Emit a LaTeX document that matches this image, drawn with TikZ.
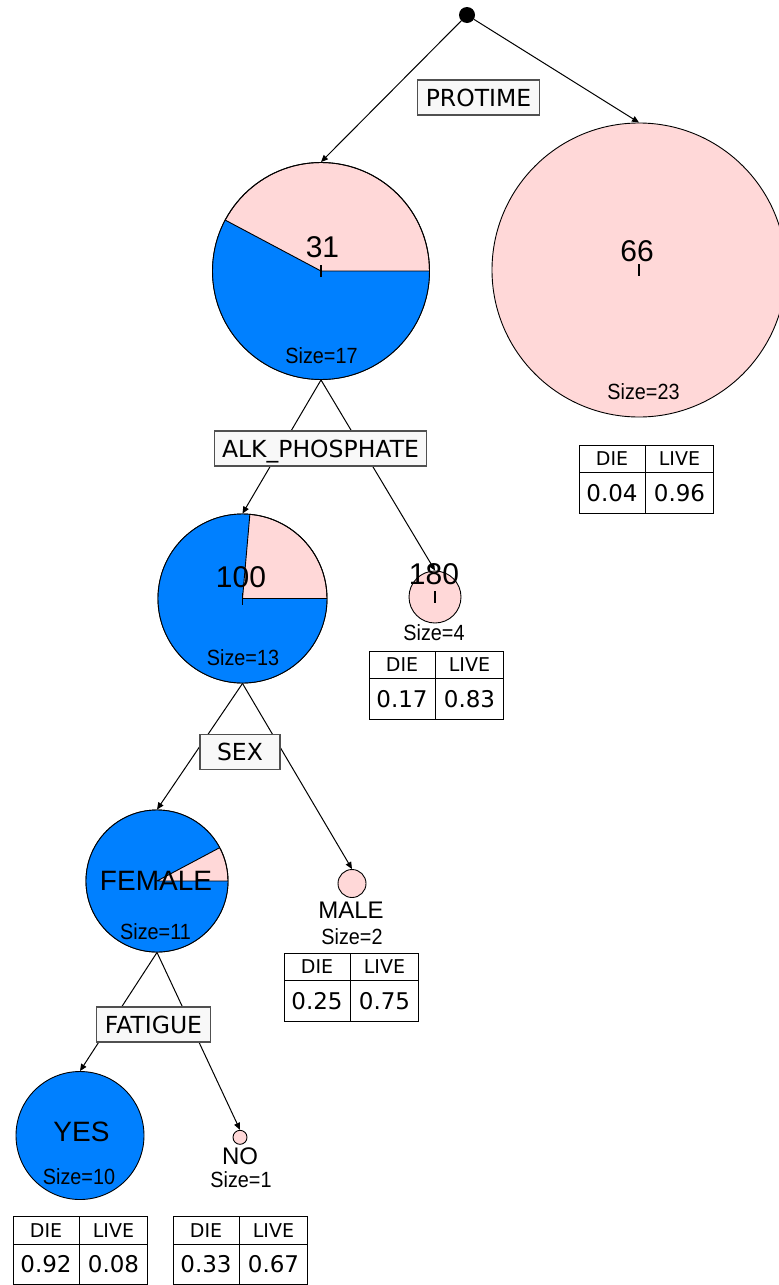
\documentclass[tikz,border=0pt]{standalone}
\usepackage{fontspec}
\setmainfont{Liberation Sans}
\newfontfamily\boxfont{DejaVu Sans}
\newfontfamily\narrowfont[FakeStretch=0.9]{Liberation Sans}
\usetikzlibrary{arrows.meta}

\definecolor{livepink}{RGB}{255,216,216}
\definecolor{dieblue}{RGB}{0,128,255}
\definecolor{boxfill}{RGB}{248,248,248}
\definecolor{boxline}{RGB}{80,80,80}

\tikzset{
  leaf/.style={circle, draw=black, line width=0.9pt, fill=livepink, inner sep=0pt},
  split/.style={draw=boxline, line width=1.1pt, fill=boxfill,
    font=\boxfont\fontsize{23.5}{23.5}\selectfont, inner xsep=8pt, inner ysep=0pt,
    text height=17pt, text depth=0pt, minimum height=35pt, minimum width=80pt},
  branch/.style={line width=1pt, -{Triangle[length=7pt,width=6pt]}},
  bigval/.style={font=\fontsize{30}{30}\selectfont, inner sep=0pt},
  catval/.style={font=\fontsize{28}{28}\selectfont, inner sep=0pt},
  smallval/.style={font=\fontsize{24}{24}\selectfont, inner sep=0pt},
  sizetext/.style={font=\narrowfont\fontsize{22}{22}\selectfont, inner sep=0pt},
  tabhead/.style={font=\boxfont\fontsize{19}{19}\selectfont, inner sep=0pt},
  tabval/.style={font=\boxfont\fontsize{23}{23}\selectfont, inner sep=0pt},
  centretick/.style={line width=1.4pt},
  tabline/.style={line width=1pt},
}

% pie chart node: name, x, y, radius, angle where the blue (DIE) share starts
\newcommand\pienode[5]{%
  \node[leaf, minimum size={2*#4pt}] (#1) at (#2,#3) {};
  \fill[dieblue] (#1.center) -- ++(#5:#4pt) arc[start angle=#5, end angle=360, radius=#4pt] -- cycle;
  \draw[line width=0.9pt] (#1.center) -- ++(#5:#4pt) (#1.center) -- ++(0:#4pt);
  \draw[line width=0.9pt] (#1.center) circle[radius=#4pt];
}

% class probability table: name, left x, top y, DIE value, LIVE value
\newcommand\probtab[5]{%
  \coordinate (#1-tl) at (#2,#3);
  \draw[tabline] (#1-tl) rectangle ++(134,-68);
  \draw[tabline] ([shift={(0,-27.5)}]#1-tl) -- ++(134,0);
  \draw[tabline] ([shift={(66.5,0)}]#1-tl) -- ++(0,-68);
  \node[tabhead] (#1-dh) at ([shift={(33,-14)}]#1-tl) {DIE};
  \node[tabhead] (#1-lh) at ([shift={(100.5,-14)}]#1-tl) {LIVE};
  \node[tabval] (#1-dv) at ([shift={(33,-48)}]#1-tl) {#4};
  \node[tabval] (#1-lv) at ([shift={(100.5,-48)}]#1-tl) {#5};
}

\begin{document}
\begin{tikzpicture}[x=1pt, y=1pt]
  \useasboundingbox (0,0) rectangle (779,-1285);
  \fill[white] (0,0) rectangle (779,-1285);

  % tree nodes
  \node[circle, fill=black, minimum size=16pt, inner sep=0pt] (root) at (467,-15) {};
  \pienode{p31}{321}{-271}{108.5}{152}
  \node[leaf, minimum size=294pt] (c66) at (639,-270) {};
  \pienode{p100}{242.5}{-598.5}{84.5}{85}
  \node[leaf, minimum size=52pt] (c180) at (435,-597) {};
  \pienode{fem}{157}{-881}{71}{28}
  \node[leaf, minimum size=28pt] (male) at (352,-883.5) {};
  \node[leaf, fill=dieblue, minimum size=128pt] (yes) at (80,-1135.5) {};
  \node[leaf, minimum size=14pt] (no) at (240,-1137.3) {};

  % branches
  \draw[branch] (root) -- (p31.north);
  \draw[branch] (root) -- (c66.north);
  \draw[branch] (p31.south) -- (p100.north);
  \draw[branch] (p31.south) -- (c180.north);
  \draw[branch] (p100.south) -- (fem.north);
  \draw[branch] (p100.south) -- (male.north);
  \draw[branch] (fem.south) -- (yes.north);
  \draw[branch] (fem.south) -- (no.north);

  % split attributes
  \node[split] (protime) at (478.5,-97.5) {PROTIME};
  \node[split] (alk) at (320.5,-448.5) {ALK\_PHOSPHATE};
  \node[split] (sex) at (240,-752) {SEX};
  \node[split] (fatigue) at (153.5,-1024.5) {FATIGUE};

  % centre ticks
  \draw[centretick] ([yshift=6pt]p31.center) -- ([yshift=-6pt]p31.center);
  \draw[centretick] ([yshift=6pt]c66.center) -- ([yshift=-6pt]c66.center);
  \draw[centretick] ([yshift=6pt]p100.center) -- ([yshift=-6pt]p100.center);
  \draw[centretick] ([yshift=6pt]c180.center) -- ([yshift=-6pt]c180.center);

  % node values and sizes
  \node[bigval] (t31) at (322.5,-246.7) {31};
  \node[sizetext] (s31) at (321.5,-355.7) {Size=17};
  \node[bigval] (t66) at (637,-251) {66};
  \node[sizetext] (s66) at (643.5,-392) {Size=23};
  \node[bigval] (t100) at (241,-576.7) {100};
  \node[sizetext] (s100) at (243,-658) {Size=13};
  \node[bigval] (t180) at (434,-574) {180};
  \node[sizetext] (s180) at (434,-633) {Size=4};
  \node[catval] (tfem) at (156,-880.7) {FEMALE};
  \node[sizetext] (sfem) at (155.5,-931.7) {Size=11};
  \node[smallval] (tmale) at (351,-910.7) {MALE};
  \node[sizetext] (smale) at (352,-936.7) {Size=2};
  \node[catval] (tyes) at (81.5,-1132) {YES};
  \node[sizetext] (syes) at (79,-1176.7) {Size=10};
  \node[smallval] (tno) at (240,-1156) {NO};
  \node[sizetext] (sno) at (241,-1180) {Size=1};

  % leaf class tables
  \probtab{tab66}{579}{-445}{0.04}{0.96}
  \probtab{tab180}{369}{-651}{0.17}{0.83}
  \probtab{tabmale}{284}{-953}{0.25}{0.75}
  \probtab{tabyes}{13}{-1216.5}{0.92}{0.08}
  \probtab{tabno}{173}{-1216.5}{0.33}{0.67}
\end{tikzpicture}
\end{document}
